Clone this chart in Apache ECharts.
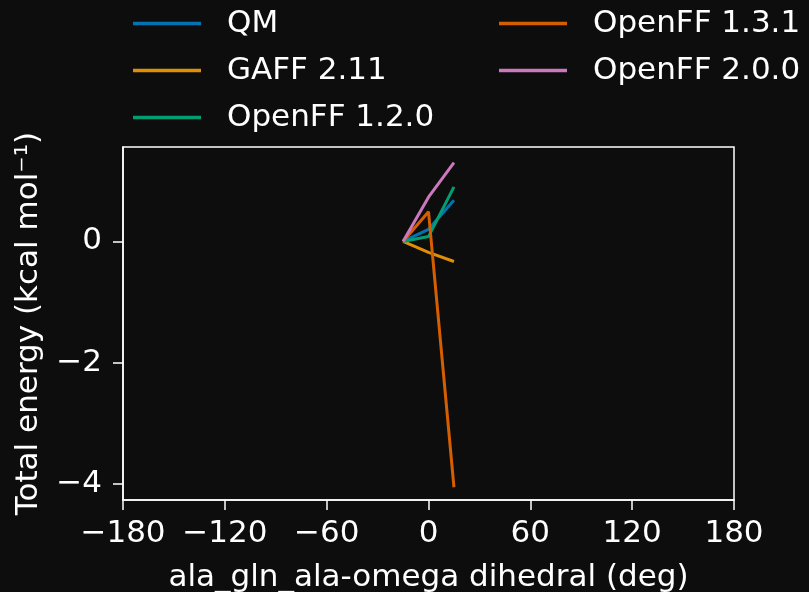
<!DOCTYPE html>
<html><head><meta charset="utf-8">
<script src="https://cdn.jsdelivr.net/npm/echarts@6/dist/echarts.min.js"></script>
<style>html,body{margin:0;padding:0;background:#0d0d0d;overflow:hidden;}#c{width:809px;height:592px;}</style>
</head><body><div id="c"></div>
<script>
const xValues = [-15, 0, 15];
const qm = [0, 0.20, 0.68];
const gaff211 = [0, -0.18, -0.33];
const openff120 = [0, 0.08, 0.90];
const openff131 = [0, 0.49, -4.05];
const openff200 = [0, 0.73, 1.30];
const xTicks = [-180, -120, -60, 0, 60, 120, 180];
const yTicks = [-4, -2, 0];
const seriesNames = ['QM', 'GAFF 2.11', 'OpenFF 1.2.0', 'OpenFF 1.3.1', 'OpenFF 2.0.0'];
const seriesValues = [qm, gaff211, openff120, openff131, openff200];
const colors = ['#0173b2', '#de8f05', '#029e73', '#d55e00', '#cc78bc'];

const font = 'DejaVu Sans';
const fs = 31;
const fmt = v => String(v).replace('-', '\u2212');
const legendCommon = {
  orient: 'vertical', top: 3, padding: 5, icon: 'rect', itemWidth: 68, itemHeight: 3.3, itemGap: 16,
  textStyle: {color: '#fff', fontFamily: font, fontSize: fs, lineHeight: fs, padding: [0, 0, 0, 21]},
  inactiveColor: '#555'
};
const chart = echarts.init(document.getElementById('c'), null, {width: 809, height: 592});
chart.setOption({
  backgroundColor: '#0d0d0d',
  animation: false,
  color: colors,
  legend: [
    Object.assign({left: 128, data: seriesNames.slice(0, 3)}, legendCommon),
    Object.assign({left: 494, data: seriesNames.slice(3)}, legendCommon)
  ],
  grid: {left: 123, right: 75, top: 147, bottom: 92, containLabel: false, outerBoundsMode: 'none',
         show: true, borderColor: '#fff', borderWidth: 1.5, backgroundColor: 'transparent'},
  xAxis: {
    type: 'value', min: xTicks[0], max: xTicks[xTicks.length - 1], interval: 60,
    name: 'ala_gln_ala-omega dihedral (deg)', nameLocation: 'middle', nameGap: 62,
    nameTextStyle: {color: '#fff', fontFamily: font, fontSize: fs},
    axisLine: {show: true, onZero: false, lineStyle: {color: '#fff', width: 1.5}},
    axisTick: {show: true, inside: false, length: 10, lineStyle: {color: '#fff', width: 1.5}},
    axisLabel: {color: '#fff', fontFamily: font, fontSize: fs, margin: 18, formatter: fmt},
    splitLine: {show: false}
  },
  yAxis: {
    type: 'value', min: -4.26, max: 1.556,
    name: 'Total energy (kcal mol\u207B\u00B9)', nameLocation: 'middle', nameGap: 79, nameRotate: 90,
    nameTextStyle: {color: '#fff', fontFamily: font, fontSize: fs},
    axisLine: {show: true, onZero: false, lineStyle: {color: '#fff', width: 1.5}},
    axisTick: {show: true, length: 10, customValues: yTicks, lineStyle: {color: '#fff', width: 1.5}},
    axisLabel: {color: '#fff', fontFamily: font, fontSize: fs, margin: 21, customValues: yTicks, formatter: fmt},
    splitLine: {show: false}
  },
  series: seriesNames.map((n, i) => ({
    name: n, type: 'line', showSymbol: false, symbol: 'none',
    lineStyle: {width: 3, color: colors[i]},
    itemStyle: {color: colors[i]},
    data: xValues.map((x, j) => [x, seriesValues[i][j]])
  }))
});
</script></body></html>
